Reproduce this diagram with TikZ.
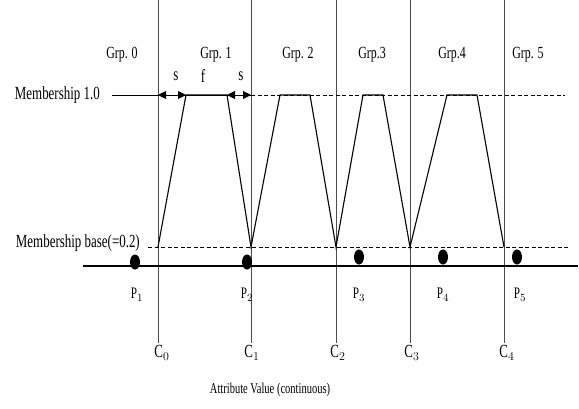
\documentclass[tikz,border=0pt]{standalone}
\usepackage{fontspec}
\setmainfont[FakeStretch=0.7]{Liberation Serif}
\usetikzlibrary{arrows.meta,shapes.geometric}
\begin{document}
\begin{tikzpicture}[x=1pt,y=-1pt,
  lbl/.style={inner sep=0pt, font=\fontsize{18.5}{20}\selectfont},
  glbl/.style={inner sep=0pt, font=\fontsize{17}{19}\selectfont},
  xlbl/.style={inner sep=0pt, font=\fontsize{15}{17}\selectfont},
  plbl/.style={inner sep=0pt, font=\fontsize{16}{18}\selectfont},
  cut/.style={draw=black!70, line width=0.8pt},
  memb/.style={line width=1.1pt},
  dsh/.style={line width=0.8pt, dash pattern=on 4pt off 2.5pt},
  dot/.style={ellipse, fill=black, minimum width=10pt, minimum height=15pt, inner sep=0pt},
  dim/.style={line width=0.9pt, {Triangle[length=8pt,width=8pt]}-{Triangle[length=8pt,width=8pt]}}
]
\useasboundingbox (0,0) rectangle (579,408);

% cut points
\foreach \n/\x in {0/158,1/251,2/336,3/410,4/504}{
  \coordinate (t\n) at (\x,0);
  \coordinate (b\n) at (\x,343);
  \coordinate (m\n) at (\x,247);
  \coordinate (u\n) at (\x,95);
}
\foreach \n in {0,...,4}{ \draw[cut] (t\n) -- (b\n); }

% membership 1.0 line
\coordinate (hl) at (112,95);
\coordinate (hr) at (565,95);
\draw[line width=0.9pt] (hl) -- (u1);
\draw[dsh] (u1) -- (hr);

% membership base
\coordinate (bl) at (148,247);
\coordinate (br) at (570,247);
\draw[dsh] (bl) -- (br);

% axis
\coordinate (al) at (83,266);
\coordinate (ar) at (578,266);
\draw[line width=1.1pt] (al) -- (ar);

% trapezoid tops
\coordinate (a1) at (186,95); \coordinate (a2) at (227,95);
\coordinate (c1) at (280,95); \coordinate (c2) at (310,95);
\coordinate (d1) at (363,95); \coordinate (d2) at (383,95);
\coordinate (e1) at (447,95); \coordinate (e2) at (477,95);
\draw[memb] (m0) -- (a1) -- (a2) -- (m1) -- (c1) -- (c2) -- (m2) -- (d1) -- (d2) -- (m3) -- (e1) -- (e2) -- (m4);

% s / f dimension arrows
\draw[dim] (u0) -- (a1);
\draw[dim] (a2) -- (u1);
\node[lbl] (s1) at (176,76) {s};
\node[lbl] (f1) at (203,76) {f};
\node[lbl] (s2) at (241,76) {s};

% group labels
\node[glbl] (g0) at (122,55) {Grp. 0};
\node[glbl] (g1) at (216,55) {Grp. 1};
\node[glbl] (g2) at (298,55) {Grp. 2};
\node[glbl] (g3) at (372,55) {Grp.3};
\node[glbl] (g4) at (452,55) {Grp.4};
\node[glbl] (g5) at (528,55) {Grp. 5};

% left labels
\node[lbl, anchor=east] (ml) at (100,95) {Membership 1.0};
\node[lbl, anchor=east] (mb) at (140,243) {Membership base(=0.2)};

% points
\node[dot] (p1) at (135,262) {};
\node[dot] (p2) at (247,262) {};
\node[dot] (p3) at (359,257) {};
\node[dot] (p4) at (443,257) {};
\node[dot] (p5) at (517,257) {};
\node[plbl] (lp1) at (137,295) {P$_1$};
\node[plbl] (lp2) at (247,295) {P$_2$};
\node[plbl] (lp3) at (359,295) {P$_3$};
\node[plbl] (lp4) at (443,295) {P$_4$};
\node[plbl] (lp5) at (520,295) {P$_5$};

% cut labels
\node[lbl] (lc0) at (162,353) {C$_0$};
\node[lbl] (lc1) at (252,353) {C$_1$};
\node[lbl] (lc2) at (338,353) {C$_2$};
\node[lbl] (lc3) at (412,353) {C$_3$};
\node[lbl] (lc4) at (507,353) {C$_4$};

\node[xlbl] (xl) at (270,390) {Attribute Value (continuous)};
\end{tikzpicture}
\end{document}
